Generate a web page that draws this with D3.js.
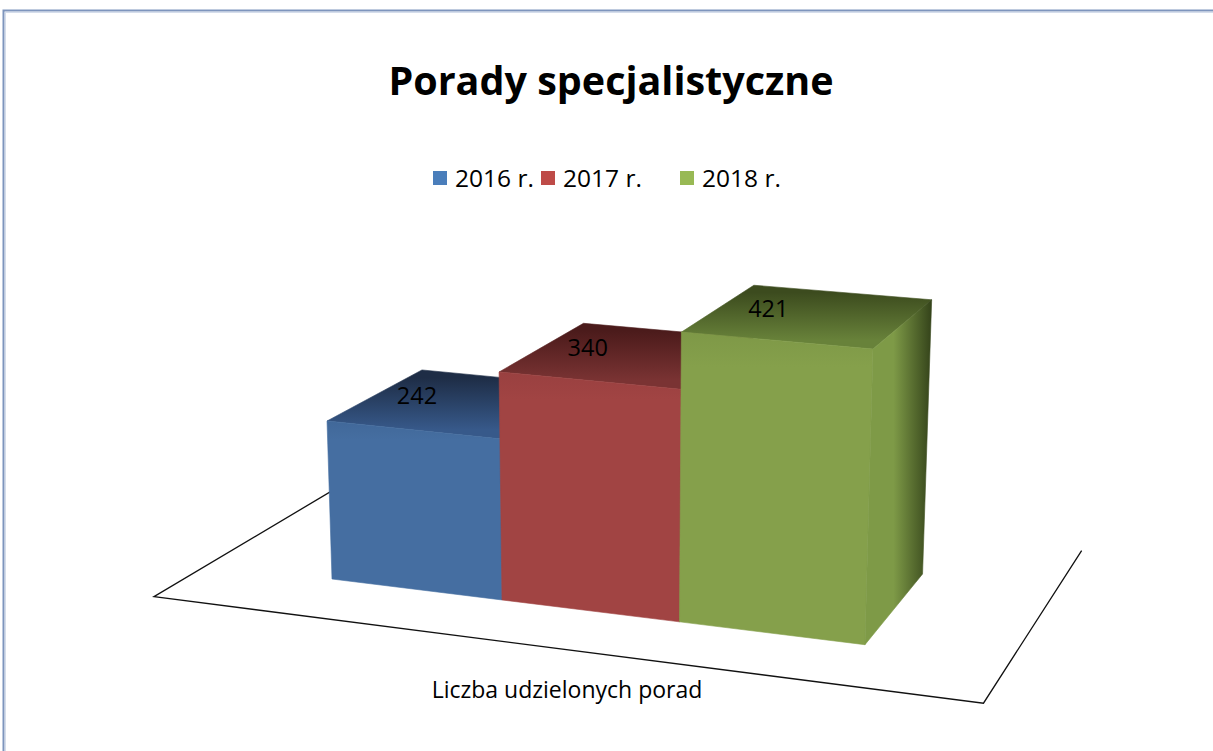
<!DOCTYPE html>
<html><head><meta charset="utf-8">
<script src="https://cdn.jsdelivr.net/npm/d3@7"></script>
<style>body{margin:0;background:#fff;} svg{display:block;}</style>
</head><body>
<svg id="chart" width="1213" height="751"></svg>
<script>
// ---- data ----
const titleText = "Porady specjalistyczne";
const categories = ["Liczba udzielonych porad"];
const series = ["2016 r.", "2017 r.", "2018 r."];
const values = [242, 340, 421];
const legendColors = ["#4A7EBB", "#BE4B48", "#98B954"];

// ---- styles ----
const frontColors = ["#456EA1", "#A14443", "#85A04B"];
const topFront = ["#37598A", "#7A3333", "#68823A"];
const topBack = ["#1E2D46", "#4B1B1B", "#3C4B1E"];
const sideFront = ["#40669A", "#973E3D", "#7E9A47"];
const sideBack = ["#1F3050", "#4A1A1A", "#34431A"];
const FONT = "'Open Sans', 'DejaVu Sans', sans-serif";

const svg = d3.select("#chart");
const W = 1213, H = 751;

// frame
svg.append("rect").attr("x", 3.5).attr("y", 10.5).attr("width", W + 10).attr("height", H + 10)
  .attr("fill", "#fff").attr("stroke", "#7E95BD").attr("stroke-width", 2);
svg.append("rect").attr("x", 5.5).attr("y", 12.5).attr("width", W + 10).attr("height", H + 10)
  .attr("fill", "none").attr("stroke", "#D5DDEB").attr("stroke-width", 1);

// title
svg.append("text").attr("x", 611).attr("y", 95).attr("text-anchor", "middle")
  .attr("font-family", FONT).attr("font-weight", 700).attr("font-size", 39.5)
  .attr("fill", "#000").text(titleText);

// legend
const legendX = [433, 541, 680];
const lg = svg.append("g");
series.forEach((s, i) => {
  lg.append("rect").attr("x", legendX[i]).attr("y", 171).attr("width", 14).attr("height", 14)
    .attr("fill", legendColors[i]);
  lg.append("text").attr("x", legendX[i] + 22).attr("y", 187)
    .attr("font-family", FONT).attr("font-size", 24.5).attr("fill", "#000").text(s);
});

// ---- 3D perspective projection (world X = series slot, Y = value, Z = depth) ----
function proj(X, Y, Z) {
  const w = -0.0211 * X - 7.036e-5 * Y + 0.07864 * Z + 1;
  return [(159.4 * X - 0.04355 * Y + 126.5 * Z + 332) / w,
          (8.3 * X - 0.6825 * Y - 21.08 * Z + 579) / w];
}
const xScale = d3.scaleBand().domain(series).range([0, series.length]).padding(0);
const yScale = d3.scaleLinear().domain([0, 500]).range([0, 500]);
const depth = 1;

// floor outline (front, left, right edges)
const fx0 = -0.75, fx1 = series.length + 0.75, fz0 = -0.49, fz1 = 1.6;
const floorPts = [proj(fx0, 0, fz1), proj(fx0, 0, fz0), proj(fx1, 0, fz0), proj(fx1, 0, fz1)];
svg.append("path").attr("d", d3.line()(floorPts)).attr("fill", "none")
  .attr("stroke", "#111").attr("stroke-width", 1.3);

const defs = svg.append("defs");
function grad(id, x1, y1, x2, y2, stops) {
  const g = defs.append("linearGradient").attr("id", id).attr("gradientUnits", "userSpaceOnUse")
    .attr("x1", x1).attr("y1", y1).attr("x2", x2).attr("y2", y2);
  stops.forEach(s => g.append("stop").attr("offset", s[0]).attr("stop-color", s[1]));
  return "url(#" + id + ")";
}
const poly = pts => "M" + pts.map(p => p[0].toFixed(2) + "," + p[1].toFixed(2)).join("L") + "Z";

const bars = svg.append("g");
series.forEach((s, i) => {
  const x0 = xScale(s), x1 = x0 + xScale.bandwidth();
  const h = yScale(values[i]);
  const fbl = proj(x0, 0, 0), fbr = proj(x1, 0, 0), ftl = proj(x0, h, 0), ftr = proj(x1, h, 0);
  const btl = proj(x0, h, depth), btr = proj(x1, h, depth), bbr = proj(x1, 0, depth);
  // top face: vertical gradient, darker toward the back
  const fm = proj((x0 + x1) / 2, h, 0), bm = proj((x0 + x1) / 2, h, depth);
  const tf = grad("top" + i, 0, fm[1], 0, bm[1], [[0, topFront[i]], [1, topBack[i]]]);
  bars.append("path").attr("d", poly([ftl, ftr, btr, btl])).attr("fill", tf)
    .attr("stroke", tf).attr("stroke-width", 0.6);
  // front face
  const ff = grad("front" + i, 0, ftl[1], 0, fbl[1],
    [[0, d3.color(frontColors[i]).darker(0.15)], [0.12, frontColors[i]], [1, frontColors[i]]]);
  bars.append("path").attr("d", poly([fbl, fbr, ftr, ftl])).attr("fill", ff)
    .attr("stroke", frontColors[i]).attr("stroke-width", 0.6);
  // right side face: horizontal gradient, darker toward the back
  const sf = grad("side" + i, ftr[0], 0, btr[0], 0,
    [[0, sideFront[i]], [0.35, sideFront[i]], [1, sideBack[i]]]);
  bars.append("path").attr("d", poly([fbr, bbr, btr, ftr])).attr("fill", sf)
    .attr("stroke", sf).attr("stroke-width", 0.6);
});

// data labels
series.forEach((s, i) => {
  const p = proj(xScale(s) + xScale.bandwidth() / 2, yScale(values[i]), depth / 2);
  svg.append("text").attr("x", p[0] - 42).attr("y", p[1] - 7).attr("dy", "0.35em")
    .attr("text-anchor", "middle").attr("font-family", FONT).attr("font-size", 23.5)
    .attr("fill", "#000").text(values[i]);
});

// category label
svg.append("text").attr("x", 567).attr("y", 698).attr("text-anchor", "middle")
  .attr("font-family", FONT).attr("font-size", 23).attr("fill", "#000").text(categories[0]);
</script>
</body></html>
